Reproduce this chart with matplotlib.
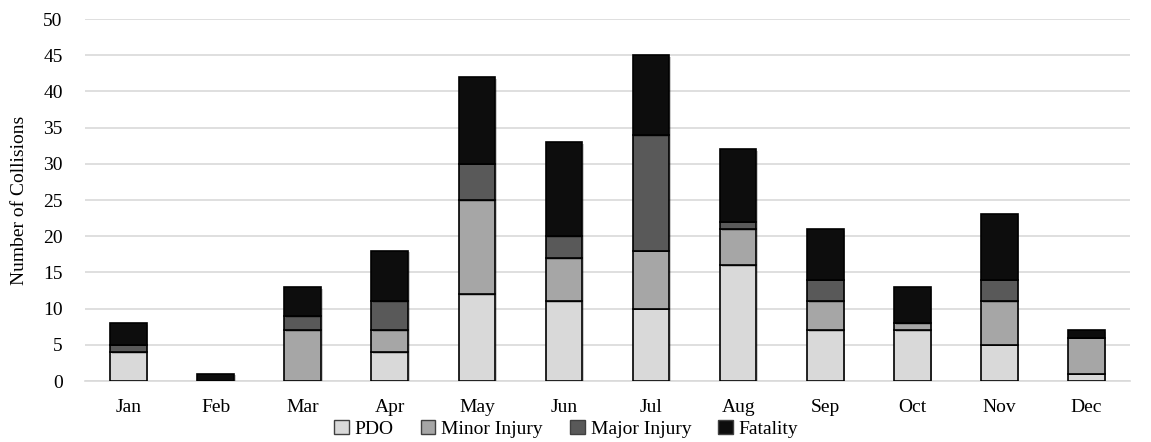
import matplotlib
matplotlib.use("Agg")
import matplotlib.pyplot as plt
import matplotlib.patheffects as pe
import numpy as np

months = ["Jan", "Feb", "Mar", "Apr", "May", "Jun", "Jul", "Aug", "Sep", "Oct", "Nov", "Dec"]
pdo = [4, 0, 0, 4, 12, 11, 10, 16, 7, 7, 5, 1]
minor_injury = [0, 0, 7, 3, 13, 6, 8, 5, 4, 1, 6, 5]
major_injury = [1, 0, 2, 4, 5, 3, 16, 1, 3, 0, 3, 0]
fatality = [3, 1, 4, 7, 12, 13, 11, 10, 7, 5, 9, 1]

series = [
    ("PDO", pdo, "#d9d9d9"),
    ("Minor Injury", minor_injury, "#a6a6a6"),
    ("Major Injury", major_injury, "#595959"),
    ("Fatality", fatality, "#0d0d0d"),
]

plt.rcParams["font.family"] = ["Liberation Serif", "DejaVu Serif"]

fig = plt.figure(figsize=(11.51, 4.42), dpi=100)
ax = fig.add_axes([0.0738, 0.138, 0.908, 0.819])

x = np.arange(len(months))
bottom = np.zeros(len(months))
shadow = [pe.SimplePatchShadow(offset=(1.2, -1.2), shadow_rgbFace="#000000", alpha=0.2), pe.Normal()]
for name, vals, color in series:
    vals = np.array(vals, dtype=float)
    ax.bar(x, vals, width=0.42, bottom=bottom, color=color, edgecolor="black",
           linewidth=1.2, label=name, zorder=3, path_effects=shadow)
    bottom += vals

ax.set_xlim(-0.5, len(months) - 0.5)
ax.set_ylim(0, 50)
ax.set_yticks(np.arange(0, 51, 5))
ax.set_xticks(x)
ax.set_xticklabels(months)
ax.grid(axis="y", color="#d9d9d9", linewidth=1.2, zorder=0)
ax.set_axisbelow(True)
for side in ["top", "right", "left"]:
    ax.spines[side].set_visible(False)
ax.spines["bottom"].set_color("#d9d9d9")
ax.spines["bottom"].set_linewidth(1.2)
ax.tick_params(axis="both", length=0, labelsize=14, colors="#000000")
ax.tick_params(axis="y", pad=16)
ax.tick_params(axis="x", pad=13)
ax.set_ylabel("Number of Collisions", fontsize=14, labelpad=11)

leg = fig.legend(*ax.get_legend_handles_labels(), loc="center",
                 bbox_to_anchor=(0.492, 0.03), ncol=4, frameon=False,
                 fontsize=14, handlelength=0.75, handleheight=0.75, handletextpad=0.3,
                 columnspacing=1.4, borderpad=0, borderaxespad=0)
for h in leg.legend_handles:
    h.set_edgecolor("#404040")
    h.set_linewidth(1.0)
    h.set_path_effects([])

fig.savefig("out.png", dpi=100)
